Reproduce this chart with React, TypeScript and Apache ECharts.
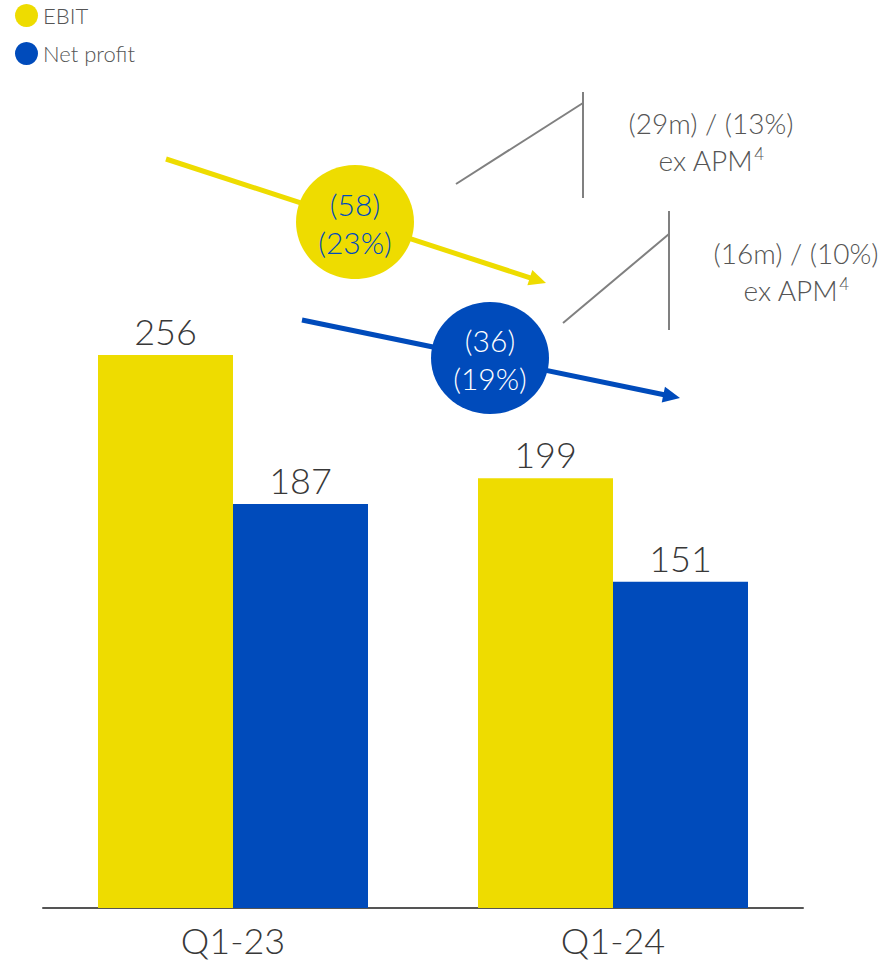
import React, { useEffect, useRef } from "react";
import * as echarts from "echarts";

const categories = ["Q1-23", "Q1-24"];
const ebit = [256, 199];
const netProfit = [187, 151];
const seriesNames = ["EBIT", "Net profit"];
const ebitChange = ["(58)", "(23%)"];
const netChange = ["(36)", "(19%)"];
const ebitExApm = "(29m) / (13%)";
const netExApm = "(16m) / (10%)";

const YELLOW = "#EEDC00";
const BLUE = "#004BBB";
const GREY_TEXT = "#555555";
const FONT = "Lato, 'Open Sans', sans-serif";

function arrow(x1: number, y1: number, x2: number, y2: number, color: string) {
  const dx = x2 - x1, dy = y2 - y1;
  const L = Math.hypot(dx, dy);
  const ux = dx / L, uy = dy / L;
  const px = -uy, py = ux;
  const hl = 17, hw = 8;
  const bx = x2 - ux * hl, by = y2 - uy * hl;
  return [
    { type: "line", z: 10, shape: { x1, y1, x2: bx + ux * 2, y2: by + uy * 2 }, style: { stroke: color, lineWidth: 5 } },
    { type: "polygon", z: 10, shape: { points: [[x2, y2], [bx + px * hw, by + py * hw], [bx - px * hw, by - py * hw]] }, style: { fill: color } },
  ];
}

function bubble(cx: number, cy: number, rx: number, ry: number, fill: string, lines: string[], color: string) {
  return [
    { type: "ellipse", z: 11, shape: { cx, cy, rx, ry }, style: { fill } },
    {
      type: "text", z: 12, x: cx, y: cy + 1,
      style: { text: lines.join("\n"), fill: color, font: `300 30px ${FONT}`, lineHeight: 38, align: "center", verticalAlign: "middle" },
    },
  ];
}

function bracket(vx: number, vy1: number, vy2: number, dx1: number, dy1: number, dy2: number, tx: number, ty: number, label: string) {
  return [
    { type: "line", z: 9, shape: { x1: vx, y1: vy1, x2: vx, y2: vy2 }, style: { stroke: "#808080", lineWidth: 2 } },
    { type: "line", z: 9, shape: { x1: dx1, y1: dy1, x2: vx, y2: dy2 }, style: { stroke: "#808080", lineWidth: 2 } },
    {
      type: "text", z: 12, x: tx, y: ty,
      style: {
        text: `{a|${label}}\n{a|ex APM}{s|4}`,
        align: "center", verticalAlign: "middle",
        rich: {
          a: { fontSize: 28, fontWeight: 300, fontFamily: FONT, fill: GREY_TEXT, lineHeight: 37 },
          s: { fontSize: 17, fontWeight: 300, fontFamily: FONT, fill: GREY_TEXT, lineHeight: 37, padding: [0, 0, 13, 1] },
        },
      },
    },
  ];
}

export default function App() {
  const ref = useRef<HTMLDivElement>(null);
  useEffect(() => {
    if (!ref.current) return;
    const chart = echarts.init(ref.current, null, { renderer: "svg" });
    const graphic: any[] = [
      ...arrow(166, 159, 546, 283, YELLOW),
      ...bubble(355, 222, 59, 57, YELLOW, ebitChange, BLUE),
      ...arrow(302, 320, 680, 398, BLUE),
      ...bubble(490, 358, 59, 56, BLUE, netChange, "#ffffff"),
      ...bracket(583, 92, 198, 456, 184, 103, 711, 141, ebitExApm),
      ...bracket(669, 211, 330, 563, 323, 234, 796, 271, netExApm),
    ];
    chart.setOption({
      animation: false,
      legend: {
        orient: "vertical",
        left: 10,
        top: -1,
        itemWidth: 23,
        itemHeight: 23,
        itemGap: 15,
        icon: "circle",
        textStyle: { fontSize: 22, fontWeight: 300, color: GREY_TEXT, fontFamily: FONT },
        data: seriesNames,
      },
      grid: { left: 43, right: 89, top: 260, bottom: 55 },
      xAxis: {
        type: "category",
        data: categories,
        axisLine: { lineStyle: { color: "#555555", width: 2 } },
        axisTick: { show: false },
        axisLabel: { fontSize: 36, fontWeight: 300, color: "#383838", fontFamily: FONT, margin: 14 },
      },
      yAxis: { type: "value", min: 0, max: 300, show: false, splitLine: { show: false } },
      series: [
        {
          name: seriesNames[0], type: "bar", data: ebit, barWidth: 135, barGap: "0%",
          itemStyle: { color: YELLOW },
          label: { show: true, position: "top", distance: 6, fontSize: 36, fontWeight: 300, color: "#383838", fontFamily: FONT },
        },
        {
          name: seriesNames[1], type: "bar", data: netProfit, barWidth: 135, barGap: "0%",
          itemStyle: { color: BLUE },
          label: { show: true, position: "top", distance: 6, fontSize: 36, fontWeight: 300, color: "#383838", fontFamily: FONT },
        },
      ],
      graphic,
    });
    return () => chart.dispose();
  }, []);
  return <div ref={ref} style={{ width: 892, height: 963, position: "absolute", left: 0, top: 0 }} />;
}
